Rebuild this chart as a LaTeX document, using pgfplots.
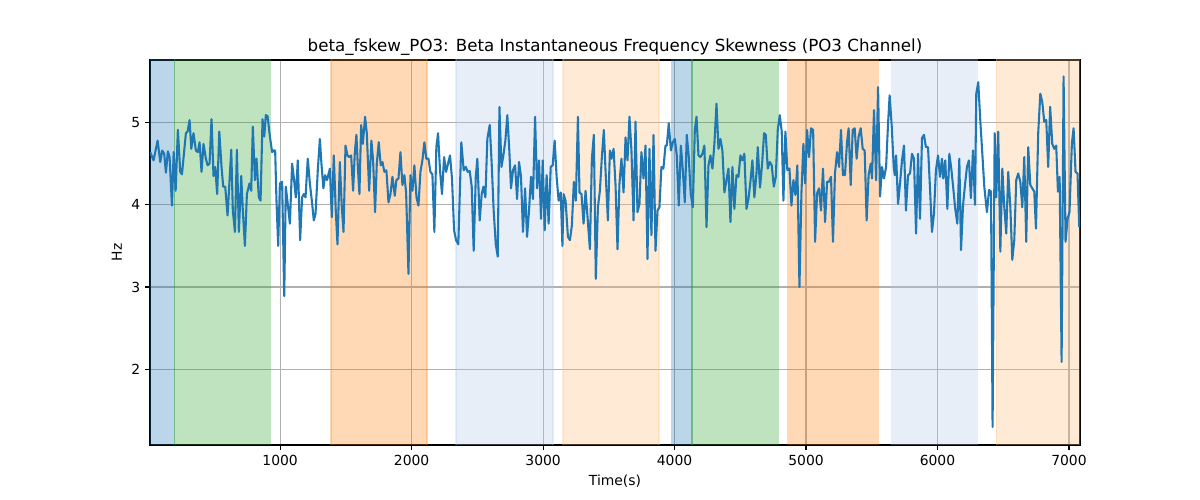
\documentclass[border=0pt]{standalone}
\usepackage{fontspec}
\setmainfont{DejaVu Sans}
\usepackage{pgfplots}
\pgfplotsset{compat=1.18}
\usepackage{pgfplotstable}
\definecolor{tabblue}{RGB}{31,119,180}
\definecolor{tabgreen}{RGB}{44,160,44}
\definecolor{taborange}{RGB}{255,127,14}
\definecolor{ltblue}{RGB}{174,199,232}
\definecolor{ltorange}{RGB}{255,187,120}
\definecolor{gridgray}{RGB}{176,176,176}
\pgfplotstableread{
x y
12 4.64
37 4.54
68 4.78
88 4.52
103 4.66
118 4.62
131 4.39
146 4.65
159 4.58
177 3.99
190 4.64
205 4.17
222 4.91
240 4.40
253 4.37
283 4.87
296 4.89
311 5.03
324 4.68
341 4.87
359 4.66
374 4.64
387 4.76
402 4.40
417 4.74
435 4.56
448 4.48
463 4.50
478 5.04
493 4.35
506 4.46
521 4.13
537 4.89
554 4.46
567 4.22
582 4.22
600 3.87
628 4.67
640 3.93
656 3.67
671 4.67
686 3.67
704 4.35
716 3.93
732 3.50
747 4.13
767 4.26
780 4.17
792 4.95
808 4.30
820 4.56
838 4.09
851 4.05
866 5.04
879 4.83
891 5.09
904 5.08
922 4.83
939 4.64
952 4.66
962 4.66
972 4.05
985 3.50
998 4.26
1015 4.28
1031 2.89
1043 4.22
1058 4.01
1074 3.77
1091 4.50
1104 4.33
1119 4.09
1134 4.54
1152 3.57
1167 4.09
1180 4.13
1193 4.09
1210 4.56
1226 4.26
1241 4.05
1256 3.81
1269 3.89
1286 4.41
1302 4.80
1314 4.50
1329 4.20
1342 4.36
1357 4.30
1378 4.44
1393 3.85
1408 4.60
1423 3.93
1436 3.52
1454 4.52
1469 3.97
1482 3.67
1497 4.72
1512 4.60
1525 4.58
1540 4.60
1555 4.17
1568 4.64
1580 4.85
1591 4.46
1603 4.13
1616 4.97
1629 4.74
1646 5.07
1659 4.87
1677 4.17
1694 4.78
1707 4.54
1722 3.91
1735 4.50
1750 4.76
1765 4.48
1778 4.52
1793 4.40
1808 4.42
1824 4.03
1839 4.13
1854 4.34
1872 4.11
1884 4.30
1900 4.32
1915 4.64
1930 4.24
1945 4.36
1958 4.15
1976 3.16
1991 4.36
2006 4.17
2021 4.48
2037 4.09
2052 3.99
2067 4.40
2082 4.54
2097 4.76
2112 4.56
2128 4.56
2143 4.40
2158 4.37
2173 3.67
2188 4.70
2201 4.87
2216 4.42
2231 4.13
2247 4.58
2262 4.40
2277 4.50
2292 4.60
2307 4.32
2323 3.69
2338 3.57
2355 3.52
2378 4.76
2396 4.42
2412 4.46
2427 4.40
2442 4.41
2457 4.22
2472 3.44
2488 4.34
2500 4.56
2518 3.81
2533 4.13
2546 4.22
2561 4.09
2576 4.80
2594 4.97
2609 4.50
2624 3.93
2640 3.52
2655 3.37
2668 5.19
2683 4.46
2698 4.60
2713 4.78
2728 5.09
2743 4.66
2756 4.20
2771 4.42
2787 4.48
2802 4.07
2817 4.52
2832 4.34
2847 3.67
2863 4.20
2878 3.61
2893 3.93
2908 4.34
2923 4.07
2939 5.07
2954 4.20
2969 4.54
2984 3.83
2997 4.54
3012 3.69
3027 4.36
3042 3.77
3058 4.46
3073 4.48
3088 4.78
3103 4.34
3118 4.05
3134 4.15
3147 3.50
3156 4.13
3171 4.05
3189 3.61
3204 3.57
3219 3.75
3234 4.28
3249 4.05
3265 5.07
3277 4.15
3292 4.13
3308 3.77
3323 4.17
3338 3.85
3356 3.46
3371 4.56
3386 4.85
3401 3.10
3417 3.97
3432 4.17
3447 4.58
3462 4.91
3477 4.34
3493 3.81
3508 4.66
3520 4.56
3536 4.68
3551 4.24
3566 3.46
3581 4.26
3596 4.56
3612 4.15
3627 4.82
3642 4.54
3657 5.07
3672 4.66
3688 3.81
3703 5.01
3718 3.91
3733 4.01
3748 4.64
3764 4.32
3779 4.72
3794 3.34
3809 4.68
3824 3.63
3840 4.85
3855 3.44
3870 3.93
3885 3.97
3900 4.46
3915 4.44
3931 4.72
3941 4.72
3956 4.99
3972 4.66
3987 4.76
4002 4.80
4017 4.60
4032 3.99
4048 4.72
4063 4.42
4078 4.03
4093 4.85
4108 4.58
4123 4.13
4139 3.97
4154 4.91
4167 5.07
4182 4.60
4197 4.58
4212 4.62
4227 4.72
4243 3.73
4258 4.48
4273 4.60
4288 4.44
4303 4.74
4319 5.23
4334 4.68
4349 4.80
4364 4.66
4379 4.15
4395 4.30
4410 4.44
4425 3.79
4440 4.46
4455 3.95
4471 4.36
4486 4.34
4501 4.60
4516 4.54
4531 4.62
4547 3.95
4562 4.07
4577 4.28
4592 4.54
4607 4.09
4623 4.38
4633 4.70
4650 4.21
4666 4.50
4681 4.87
4694 4.85
4709 4.44
4724 4.52
4739 4.48
4755 4.22
4770 4.34
4785 4.91
4800 5.09
4815 4.89
4828 4.05
4843 4.89
4858 4.42
4874 4.44
4889 3.99
4904 4.30
4919 4.12
4934 4.48
4950 3.00
4965 4.14
4980 4.74
4993 4.26
5008 4.91
5023 4.58
5038 4.93
5054 4.91
5069 3.55
5084 4.14
5099 4.20
5114 3.93
5129 4.44
5145 3.79
5160 4.28
5175 4.28
5190 4.34
5205 3.55
5220 4.38
5236 4.64
5251 4.46
5266 4.91
5281 4.36
5296 4.36
5312 4.76
5324 4.93
5340 4.24
5355 4.91
5370 4.93
5385 4.56
5400 4.83
5416 4.93
5431 4.68
5446 4.66
5461 3.81
5476 4.36
5492 4.50
5502 4.32
5517 5.15
5533 4.30
5548 5.43
5563 4.10
5578 4.46
5593 4.32
5609 4.46
5624 4.99
5636 5.33
5652 4.95
5667 4.46
5675 4.36
5685 4.60
5700 4.01
5715 4.26
5730 4.54
5745 4.72
5760 3.93
5776 4.36
5791 4.38
5806 4.62
5821 4.56
5837 3.65
5852 4.62
5867 3.83
5882 4.81
5897 4.85
5912 4.70
5928 4.70
5943 4.20
5958 3.67
5973 3.89
5988 4.42
6004 4.60
6019 4.34
6034 4.56
6044 4.32
6059 4.54
6075 3.95
6090 4.62
6105 4.44
6120 4.20
6135 3.95
6151 3.77
6166 4.56
6179 3.45
6194 3.99
6209 4.24
6224 4.46
6239 4.54
6254 4.08
6270 4.66
6285 4.00
6295 5.35
6310 5.49
6326 5.01
6341 4.62
6356 4.22
6376 3.91
6392 4.18
6407 4.16
6419 1.30
6435 4.87
6447 4.09
6462 4.89
6478 3.43
6493 4.44
6508 3.97
6523 3.65
6538 4.40
6554 3.97
6569 3.33
6584 3.57
6599 4.30
6614 4.38
6630 4.28
6645 3.97
6660 4.58
6675 3.55
6690 4.70
6706 4.24
6721 4.20
6736 4.16
6749 3.71
6766 4.87
6782 5.35
6797 5.25
6812 5.01
6827 5.03
6842 4.46
6857 5.19
6873 4.74
6888 4.68
6903 4.72
6916 4.16
6929 4.34
6944 2.09
6959 5.56
6974 3.55
6989 3.83
7004 3.91
7022 4.74
7035 4.93
7050 4.40
7065 4.38
7078 3.73
}\datatable
\begin{document}
\begin{tikzpicture}
\useasboundingbox (-108bp,-39.6bp) rectangle (756bp,320.4bp);
\begin{axis}[
  at={(0,0)}, anchor=south west,
  scale only axis,
  width=669.6bp, height=277.2bp,
  xmin=10, xmax=7084, ymin=1.08, ymax=5.76,
  xtick={1000,2000,3000,4000,5000,6000,7000},
  ytick={2,3,4,5},
  /pgf/number format/assume math mode=true,
  /pgf/number format/set thousands separator={},
  tick pos=left, tick align=outside,
  major tick length=3.5bp,
  tick style={black, line width=0.8bp},
  grid=major,
  grid style={gridgray, line width=0.8bp},
  axis line style={black, line width=0.8bp},
  ticklabel style={font=\fontsize{10bp}{12bp}\selectfont},
  xlabel={Time(s)}, ylabel={Hz},
  label style={font=\fontsize{10bp}{12bp}\selectfont},
  title={beta\_fskew\_PO3: Beta Instantaneous Frequency Skewness (PO3 Channel)},
  title style={font=\fontsize{12bp}{14bp}\selectfont, yshift=-6.5bp},
]
\addplot[draw=tabblue, draw opacity=0.3, fill=tabblue, fill opacity=0.3, line width=1bp] coordinates {(-100,0) (-100,7) (195,7) (195,0)} -- cycle;
\addplot[draw=tabgreen, draw opacity=0.3, fill=tabgreen, fill opacity=0.3, line width=1bp] coordinates {(195,0) (195,7) (925,7) (925,0)} -- cycle;
\addplot[draw=taborange, draw opacity=0.3, fill=taborange, fill opacity=0.3, line width=1bp] coordinates {(1387,0) (1387,7) (2117,7) (2117,0)} -- cycle;
\addplot[draw=ltblue, draw opacity=0.3, fill=ltblue, fill opacity=0.3, line width=1bp] coordinates {(2338,0) (2338,7) (3075,7) (3075,0)} -- cycle;
\addplot[draw=ltorange, draw opacity=0.3, fill=ltorange, fill opacity=0.3, line width=1bp] coordinates {(3151,0) (3151,7) (3881,7) (3881,0)} -- cycle;
\addplot[draw=tabblue, draw opacity=0.3, fill=tabblue, fill opacity=0.3, line width=1bp] coordinates {(3978,0) (3978,7) (4134,7) (4134,0)} -- cycle;
\addplot[draw=tabgreen, draw opacity=0.3, fill=tabgreen, fill opacity=0.3, line width=1bp] coordinates {(4134,0) (4134,7) (4790,7) (4790,0)} -- cycle;
\addplot[draw=taborange, draw opacity=0.3, fill=taborange, fill opacity=0.3, line width=1bp] coordinates {(4861,0) (4861,7) (5550,7) (5550,0)} -- cycle;
\addplot[draw=ltblue, draw opacity=0.3, fill=ltblue, fill opacity=0.3, line width=1bp] coordinates {(5651,0) (5651,7) (6302,7) (6302,0)} -- cycle;
\addplot[draw=ltorange, draw opacity=0.3, fill=ltorange, fill opacity=0.3, line width=1bp] coordinates {(6447,0) (6447,7) (7200,7) (7200,0)} -- cycle;
\addplot[tabblue, line width=1.5bp, no markers, line join=round] table[x=x, y=y] {\datatable};
\end{axis}
\end{tikzpicture}
\end{document}
